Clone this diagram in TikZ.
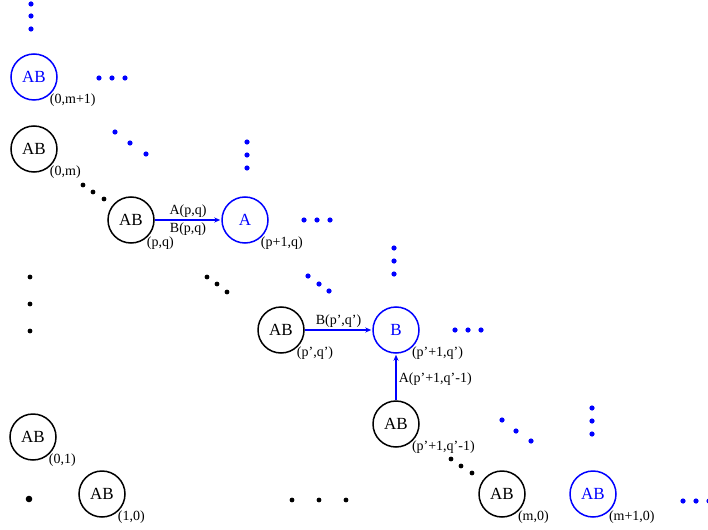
\documentclass[tikz,border=0pt]{standalone}
\usepackage{fontspec}
\setmainfont{Liberation Serif}
\usetikzlibrary{arrows.meta}
\begin{document}
\begin{tikzpicture}[x=1pt,y=-1pt,
  st/.style={circle,draw,line width=1.5pt,minimum size=46pt,inner sep=0pt,font=\fontsize{17}{19}\selectfont},
  bst/.style={st,draw=blue,text=blue},
  lab/.style={anchor=north west,inner sep=0pt,font=\fontsize{14}{16}\selectfont},
  elab/.style={inner sep=2.2pt,font=\fontsize{14}{16}\selectfont},
  arr/.style={draw=blue,line width=1.3pt,-{Stealth[length=6pt,width=5pt]},shorten >=1pt},
  bd/.style={fill=blue},
  kd/.style={fill=black}
]
\useasboundingbox (0,0) rectangle (708,529);
% nodes
\node[bst] (m1) at (34,77) {AB};
\node[st]  (m)  at (34,149) {AB};
\node[st]  (pq) at (131,220) {AB};
\node[bst] (A)  at (245,220) {A};
\node[st]  (pq2) at (281,330) {AB};
\node[bst] (B)  at (396,330) {B};
\node[st]  (pq3) at (396,424) {AB};
\node[st]  (m0) at (502,494) {AB};
\node[bst] (m10) at (593,494) {AB};
\node[st]  (o1) at (33,437) {AB};
\node[st]  (o10) at (102,494) {AB};
% labels
\node[lab] at ([xshift=-1pt]m1.south east) {(0,m+1)};
\node[lab] at ([xshift=-1pt]m.south east) {(0,m)};
\node[lab] at ([xshift=-1pt]pq.south east) {(p,q)};
\node[lab] at ([xshift=-1pt]A.south east) {(p+1,q)};
\node[lab] at ([xshift=-1pt]pq2.south east) {(p',q')};
\node[lab] at ([xshift=-1pt]B.south east) {(p'+1,q')};
\node[lab] at ([xshift=-1pt]pq3.south east) {(p'+1,q'-1)};
\node[lab] at ([xshift=-1pt]m0.south east) {(m,0)};
\node[lab] at ([xshift=-1pt]m10.south east) {(m+1,0)};
\node[lab] at ([xshift=-1pt]o1.south east) {(0,1)};
\node[lab] at ([xshift=-1pt]o10.south east) {(1,0)};
% arrows
\draw[arr] (pq) -- node[above,elab]{A(p,q)} node[below,elab]{B(p,q)} (A);
\draw[arr] (pq2) -- node[above,elab]{B(p',q')} (B);
\draw[arr] (pq3) -- node[right,elab,pos=0.45]{A(p'+1,q'-1)} (B);
% blue dots
\foreach \x/\y in {31/4,31/16,31/29, 99/78,112/78,125/78, 115/132,130/143,146/154,
  247/142,247/155,247/168, 304/220,317/220,330/220, 308/276,319/284,329/291,
  394/248,394/261,394/274, 455/330,468/330,481/330, 502/420,516/431,531/441,
  592/408,592/421,592/434, 683/501,696/501,709/501}
  \fill[bd] (\x,\y) circle (2.6pt);
% black dots
\foreach \x/\y in {83/185,93/192,104/199, 207/277,217/284,227/292,
  30/277,30/304,30/331, 451/459,461/466,472/473, 292/500,319/500,346/500}
  \fill[kd] (\x,\y) circle (2.4pt);
\fill[kd] (29,499) circle (3.3pt);
\end{tikzpicture}
\end{document}
